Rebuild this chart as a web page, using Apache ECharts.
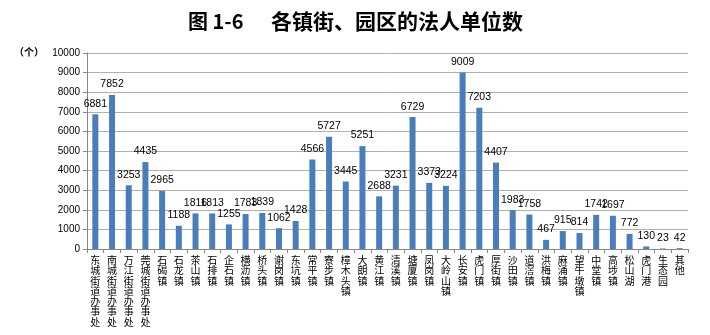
<!DOCTYPE html>
<html><head><meta charset="utf-8">
<script src="https://cdn.jsdelivr.net/npm/echarts@6/dist/echarts.min.js"></script>
<style>html,body{margin:0;padding:0;background:#fff}#c{width:710px;height:335px}</style>
</head><body><div id="c"></div>
<script>
var categories = ['东城街道办事处','南城街道办事处','万江街道办事处','莞城街道办事处','石碣镇','石龙镇','茶山镇','石排镇','企石镇','横沥镇','桥头镇','谢岗镇','东坑镇','常平镇','寮步镇','樟木头镇','大朗镇','黄江镇','清溪镇','塘厦镇','凤岗镇','大岭山镇','长安镇','虎门镇','厚街镇','沙田镇','道滘镇','洪梅镇','麻涌镇','望牛墩镇','中堂镇','高埗镇','松山湖','虎门港','生态园','其他'];
var values = [6881,7852,3253,4435,2965,1188,1816,1813,1255,1783,1839,1062,1428,4566,5727,3445,5251,2688,3231,6729,3373,3224,9009,7203,4407,1983,1758,467,915,814,1742,1697,772,130,23,42];
var yTicks = [0,1000,2000,3000,4000,5000,6000,7000,8000,9000,10000];
var titleNo = '图 1-6';
var titleText = '各镇街、园区的法人单位数';
var unitText = '（个）';

var chart = echarts.init(document.getElementById('c'));
chart.setOption({
  animation:false,
  title:[
    {text:titleNo,left:183,top:6,textStyle:{fontFamily:'Noto Sans CJK SC',fontWeight:'bold',fontSize:20,color:'#000'}},
    {text:titleText,left:266,top:6,textStyle:{fontFamily:'Noto Sans CJK SC',fontWeight:'bold',fontSize:21,color:'#000'}}
  ],
  graphic:[{type:'text',left:14,top:47,style:{text:unitText,font:'bold 10px "Noto Sans CJK SC"',fill:'#000'}}],
  grid:{left:87,right:22,top:53,bottom:86,containLabel:false,outerBoundsMode:'none'},
  xAxis:{type:'category',data:categories,
    axisLine:{lineStyle:{color:'#888'}},
    axisTick:{show:true,alignWithLabel:false,length:4,lineStyle:{color:'#888'}},
    axisLabel:{interval:0,color:'#000',fontSize:10,lineHeight:10.3,fontFamily:'Noto Sans CJK SC',margin:6,
      formatter:function(v){return v.split('').join('\n');}}},
  yAxis:{type:'value',min:yTicks[0],max:yTicks[yTicks.length-1],interval:1000,
    axisLine:{show:true,lineStyle:{color:'#888'}},
    axisTick:{show:true,length:4,lineStyle:{color:'#888'}},
    axisLabel:{color:'#000',fontSize:10,fontFamily:'Liberation Sans',margin:7,formatter:function(v){return String(v);}},
    splitLine:{lineStyle:{color:'#b0b0b0',width:1}}},
  series:[{type:'bar',data:values,barWidth:6,
    itemStyle:{color:'#4a7ebb'},
    label:{show:true,position:'top',distance:5,color:'#000',fontSize:10.5,fontFamily:'Liberation Sans'}}]
});
</script></body></html>
